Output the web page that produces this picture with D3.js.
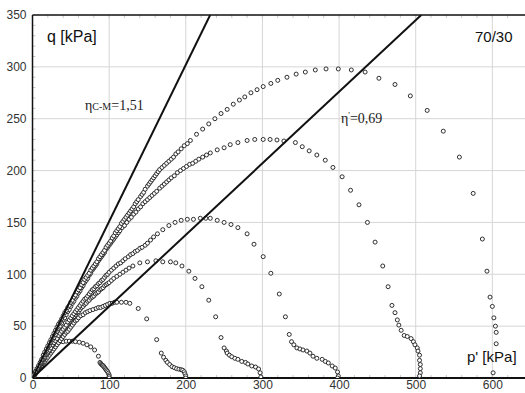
<!DOCTYPE html>
<html><head><meta charset="utf-8">
<script src="https://cdn.jsdelivr.net/npm/d3@7"></script>
<style>
html,body{margin:0;padding:0;background:#fff;}
svg{display:block;}
</style></head>
<body>
<div id="chart"></div>
<script>
// ---- data (p', q) in kPa ----
const xTicks = [0, 100, 200, 300, 400, 500, 600];
const yTicks = [0, 50, 100, 150, 200, 250, 300, 350];
const lineSlopes = [1.51, 0.69];

const path100 = [[1,1],[2.5,3],[4,5],[5.5,7],[7,9],[8.5,11],[10,13],[11.5,15],[13,17],[14.5,19],[16,21],[17.5,23],[19,25],[20.5,27],[22,28],[24,30],[26,31],[28,32],[30,33],[33,34],[36,35],[40,35],[44,35.5],[48,35.5],[52,35.5],[56,35],[61,34.5],[66,33.5],[71,32],[76,30],[81,27],[86,21],[88,15],[89,14],[90,13],[91,12.5],[92,12],[93,11],[94,10],[95,9],[96,8],[97,7],[98,6],[99,4.5],[100,3],[100,1.5],[100,0]];

const path200 = [[2,2],[4,4],[6,6],[8,8],[10,10],[12,12],[14,14],[16,16],[18,18],[20,20],[22,22],[24,24],[26,26],[28,28],[30,30],[32,32],[34,34],[36,36],[38,38],[40,40],[42,42],[44,44],[46,45],[48,47],[50,49],[52,51],[54,53],[56,55],[58,56],[60,58],[63,60],[66,61],[69,63],[72,64],[75,65],[79,66],[83,67],[86,68],[89,68],[92,69],[95,70],[98,71],[101,72],[104,72],[107,73],[110,73],[116,73],[122,73],[127,72],[138,67],[149,57],[162,37],[168,24],[171,20],[174,17],[176,15],[179,13],[182,11],[185,10],[188,9],[191,8.5],[194,8],[196,7.5],[198,6],[199,4],[200,2],[200,0]];

const path300 = [[2,2],[4,5],[6,7],[8,10],[10,12],[12,14],[14,17],[16,19],[18,22],[20,24],[22,26],[24,29],[26,31],[28,34],[30,36],[32,38],[34,40],[36,42],[38,44],[40,46],[42,48],[44,50],[46,52],[48,54],[50,56],[52,58],[54,59],[56,61],[58,63],[60,64],[62,66],[64,68],[66,69],[68,71],[70,72],[72,74],[74,75],[76,77],[78,78],[80,79],[82,81],[84,82],[86,83],[88,85],[90,86],[92,87],[94,89],[96,90],[98,91],[100,92],[103,94],[106,96],[110,98],[114,100],[118,102],[122,104],[126,106],[131,108],[140,111],[150,112],[161,113],[170,112],[180,112],[187,111],[195,108],[204,103],[212,96],[221,88],[230,75],[239,59],[246,39],[250,29],[253,26],[254,24],[257,22],[260,20.5],[264,19],[268,18],[273,16],[278,15],[281,13.5],[286,11.6],[291,10.6],[295,8.7],[297,5],[298,1]];

const path400 = [[2,3],[4,5],[6,8],[8,10],[10,13],[12,15],[14,18],[16,20],[18,23],[20,25],[22,27],[24,29],[26,32],[28,34],[30,36],[32,38],[34,41],[36,43],[38,45],[40,47],[42,49],[44,51],[46,54],[48,56],[50,58],[52,60],[54,62],[56,64],[58,66],[60,68],[62,70],[64,72],[66,74],[68,76],[70,77],[72,79],[74,81],[76,83],[78,85],[80,86],[82,88],[84,89],[86,91],[88,92],[90,94],[92,95],[94,97],[96,99],[98,100],[100,102],[103,104],[106,106],[109,108],[112,110],[115,111],[118,113],[121,115],[125,117],[128,119],[131,120],[134,122],[137,123],[140,125],[143,126],[147,128],[150,130],[154,133],[158,136],[163,139],[170,143],[178,147],[186,150],[194,152],[202,153],[210,153],[219,154],[226,154],[232,154],[241,152],[250,150],[259,148],[268,145],[280,139],[289,129],[301,117],[311,101],[322,81],[330,59],[335,42],[338,35],[341,32],[345,29],[349,28],[353,27],[358,26],[362,24],[366,21],[371,19],[378,18],[382,16],[386,14.5],[391,11.6],[395,9.6],[398,5.8],[399,2],[398,0]];

const path500 = [[2,3],[4,6],[6,8],[8,11],[10,14],[12,17],[14,20],[16,23],[18,26],[20,29],[22,31],[24,34],[26,37],[28,39],[30,42],[32,45],[34,48],[36,50],[38,53],[40,56],[42,58],[44,61],[46,64],[48,66],[50,69],[52,72],[54,74],[56,77],[58,79],[60,82],[62,84],[64,87],[66,89],[68,92],[70,94],[72,96],[74,99],[76,101],[78,104],[80,106],[82,108],[84,110],[86,113],[88,115],[90,117],[92,119],[94,121],[96,124],[98,126],[100,128],[102,130],[104,132],[106,134],[108,136],[110,138],[112,140],[114,142],[117,145],[120,147],[123,150],[126,153],[129,155],[132,158],[135,160],[138,163],[141,165],[144,168],[147,170],[150,172],[153,174],[156,176],[159,178],[162,180],[166,183],[169,185],[172,187],[175,189],[178,191],[181,193],[185,195],[189,198],[193,200],[197,202],[201,204],[205,206],[209,207],[213,209],[217,211],[222,213],[227,215],[232,217],[241,220],[250,222],[258,225],[268,227],[280,229],[290,230],[301,230],[310,230],[319,229.5],[328,228.5],[343,227],[352,223],[361,219],[371,215],[382,210],[392,203],[404,194],[415,181],[426,167],[437,150],[447,131],[457,108],[464,88],[469,70],[473,63],[476,56],[478,51],[481,46],[485,41],[489,40],[494,38],[497,35],[499,32],[502,29],[503,26],[505,22],[505,17],[506,13],[506,9],[506,5],[505,2]];

const path600 = [[2,3],[4,6],[6,9],[8,12],[10,15],[12,18],[14,22],[16,25],[18,28],[20,31],[22,34],[24,37],[26,40],[28,43],[30,46],[32,49],[34,52],[36,54],[38,57],[40,60],[42,63],[44,65],[46,68],[48,70],[50,73],[52,75],[54,78],[56,80],[58,83],[60,85],[62,87],[64,90],[66,92],[68,95],[70,97],[72,99],[74,101],[76,104],[78,106],[80,108],[82,110],[84,112],[86,115],[88,117],[90,119],[92,121],[94,123],[96,126],[98,128],[100,130],[102,132],[104,135],[106,137],[108,140],[110,142],[112,144],[114,146],[116,149],[118,151],[120,153],[122,155],[124,157],[126,159],[128,161],[130,163],[132,165],[134,168],[136,170],[138,172],[141,175],[143,177],[145,179],[147,182],[150,185],[152,187],[154,189],[156,191],[158,193],[160,195],[162,197],[164,199],[166,201],[169,203],[172,205],[175,207],[178,209],[181,211],[184,213],[187,216],[190,218],[194,221],[198,224],[202,226],[206,229],[214,235],[222,240],[230,245],[238,250],[246,255],[254,259],[262,264],[270,268],[277,271],[285,275],[293,278],[301,281],[311,284],[320,287],[332,290],[344,293],[356,295],[369,297],[383,298],[399,298],[416,297],[434,295],[452,289],[473,283],[493,272],[515,258],[536,238],[557,213],[575,178],[587,134],[593,103],[597,78],[600,69],[602,58],[604,50],[605,44],[605,33],[601,5]];

const paths = [path100, path200, path300, path400, path500, path600];

// ---- layout ----
const W = 525, H = 393;
const mLeft = 32.5, mRight = 523, mTop = 15, mBottom = 378;
const x = d3.scaleLinear().domain([0, 640]).range([mLeft, mRight]);
const y = d3.scaleLinear().domain([0, 350]).range([mBottom, mTop]);

const svg = d3.select("#chart").append("svg").attr("width", W).attr("height", H);
const font = "'Liberation Sans', Arial, sans-serif";
const serif = "'Liberation Serif', 'Times New Roman', serif";

svg.append("defs").append("clipPath").attr("id", "clip")
  .append("rect").attr("x", mLeft).attr("y", mTop).attr("width", mRight - mLeft + 5).attr("height", mBottom - mTop);

// grid
const grid = svg.append("g");
grid.selectAll("line.gx").data(xTicks.filter(d => d > 0)).join("line")
  .attr("x1", d => x(d)).attr("x2", d => x(d)).attr("y1", mTop).attr("y2", mBottom)
  .attr("stroke", "#d6d6d6").attr("stroke-width", 1);
grid.selectAll("line.gy").data(yTicks.filter(d => d > 0 && d < 350)).join("line")
  .attr("x1", mLeft).attr("x2", W).attr("y1", d => y(d)).attr("y2", d => y(d))
  .attr("stroke", "#d6d6d6").attr("stroke-width", 1);

// minor ticks
const minorX = d3.range(20, 640, 20);
const minorY = d3.range(10, 350, 10);
const mt = svg.append("g").attr("stroke", "#c8c8c8").attr("stroke-width", 1);
mt.selectAll("line.mb").data(minorX).join("line")
  .attr("x1", d => x(d)).attr("x2", d => x(d)).attr("y1", mBottom - 3).attr("y2", mBottom);
mt.selectAll("line.mt").data(minorX).join("line")
  .attr("x1", d => x(d)).attr("x2", d => x(d)).attr("y1", mTop).attr("y2", mTop + 3);
mt.selectAll("line.ml").data(minorY).join("line")
  .attr("x1", mLeft).attr("x2", mLeft + 3).attr("y1", d => y(d)).attr("y2", d => y(d));

// axes
const xAxis = d3.axisBottom(x).tickValues(xTicks).tickSize(0).tickPadding(2);
const gx = svg.append("g").attr("transform", `translate(0,${mBottom})`).call(xAxis);
gx.select(".domain").remove();
gx.selectAll("text").attr("font-family", font).attr("font-size", 12).attr("fill", "#333");

const yAxis = d3.axisLeft(y).tickValues(yTicks).tickSize(0).tickPadding(6);
const gy = svg.append("g").attr("transform", `translate(${mLeft},0)`).call(yAxis);
gy.select(".domain").remove();
gy.selectAll("text").attr("font-family", font).attr("font-size", 12).attr("fill", "#333");

svg.append("line").attr("x1", mLeft).attr("x2", W).attr("y1", mTop).attr("y2", mTop).attr("stroke", "#111").attr("stroke-width", 1.5);
svg.append("line").attr("x1", mLeft).attr("x2", W).attr("y1", mBottom).attr("y2", mBottom).attr("stroke", "#111").attr("stroke-width", 2);
svg.append("line").attr("x1", mLeft).attr("x2", mLeft).attr("y1", mTop).attr("y2", mBottom).attr("stroke", "#111").attr("stroke-width", 1.5);

const plot = svg.append("g").attr("clip-path", "url(#clip)");

// stress-path markers
paths.forEach(pts => {
  plot.append("g").selectAll("circle").data(pts).join("circle")
    .attr("cx", d => x(d[0])).attr("cy", d => y(d[1])).attr("r", 2)
    .attr("fill", "#fff").attr("stroke", "#1a1a1a").attr("stroke-width", 0.9);
});

// straight lines q = eta * p'
lineSlopes.forEach(s => {
  const pEnd = 350 / s;
  plot.append("line")
    .attr("x1", x(0)).attr("y1", y(0)).attr("x2", x(pEnd)).attr("y2", y(350))
    .attr("stroke", "#111").attr("stroke-width", 2);
});

// labels
svg.append("text").attr("x", 47).attr("y", 42).attr("font-family", font).attr("font-size", 16).attr("fill", "#111").text("q [kPa]");
svg.append("text").attr("x", 475).attr("y", 42).attr("font-family", font).attr("font-size", 15).attr("fill", "#111").text("70/30");
svg.append("text").attr("x", 467).attr("y", 362).attr("font-family", font).attr("font-size", 15).attr("fill", "#111").text("p' [kPa]");

const t1 = svg.append("text").attr("x", 85).attr("y", 110).attr("font-family", serif).attr("font-size", 14).attr("fill", "#222");
t1.append("tspan").text("η");
t1.append("tspan").attr("font-size", 10).text("C-M");
t1.append("tspan").text("=1,51");

const t2 = svg.append("text").attr("x", 341).attr("y", 123).attr("font-family", serif).attr("font-size", 14).attr("fill", "#222");
t2.append("tspan").text("η");
t2.append("tspan").attr("font-size", 9).attr("dy", -5).text("'");
t2.append("tspan").attr("dy", 5).text("=0,69");
</script>
</body></html>
